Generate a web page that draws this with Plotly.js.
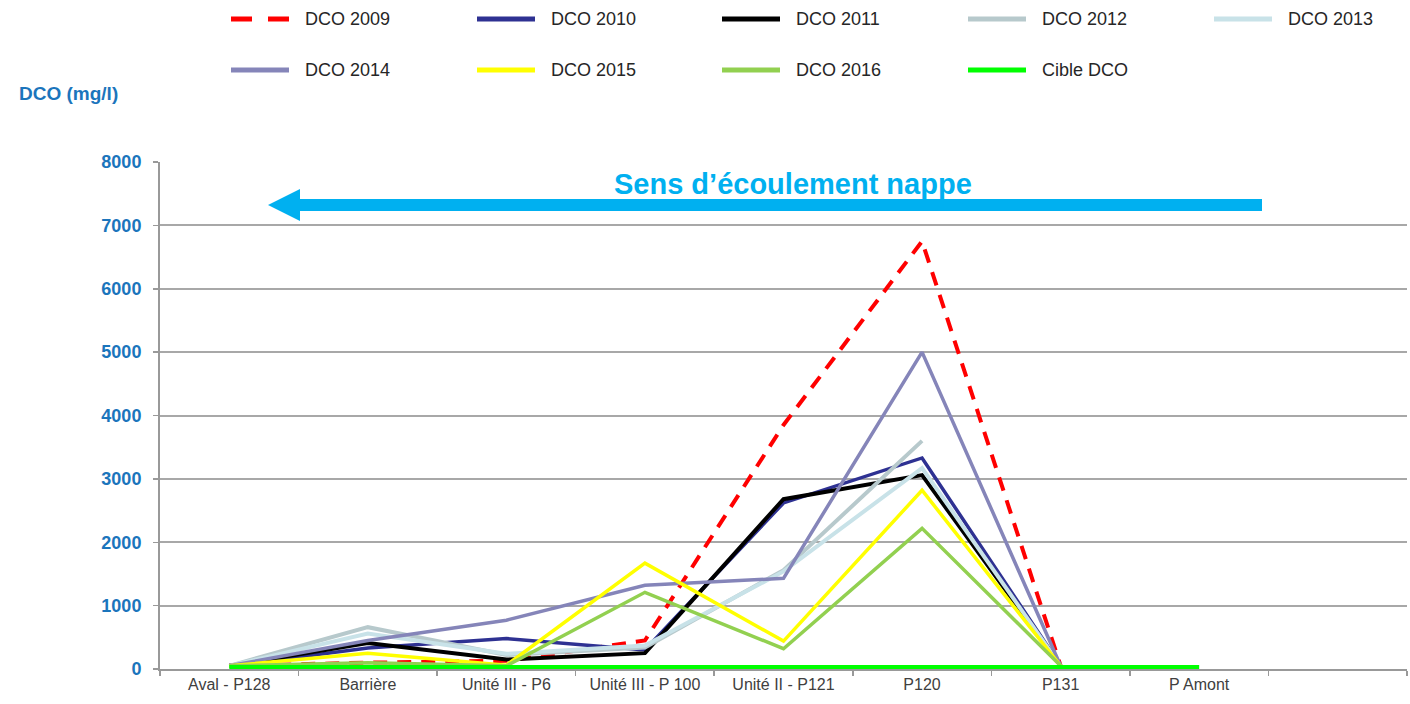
<!DOCTYPE html>
<html>
<head>
<meta charset="utf-8">
<script src="https://cdn.plot.ly/plotly-3.0.1.min.js"></script>
<style>html,body{margin:0;padding:0;background:#fff;}#chart{width:1410px;height:704px;}</style>
</head>
<body>
<div id="chart"></div>
<script>
// ---- data ----
var categories = ["Aval - P128", "Barrière", "Unité III - P6", "Unité III - P 100", "Unité II - P121", "P120", "P131", "P Amont", " "];
var seriesNames = ["DCO 2009", "DCO 2010", "DCO 2011", "DCO 2012", "DCO 2013", "DCO 2014", "DCO 2015", "DCO 2016", "Cible DCO"];
var dco2009 = [50, 100, 130, 450, 3850, 6750, 50];
var dco2010 = [50, 330, 480, 300, 2620, 3330, 50];
var dco2011 = [50, 410, 150, 250, 2680, 3060, 50];
var dco2012 = [50, 660, 220, 340, 1560, 3600, null];
var dco2013 = [50, 560, 240, 370, 1540, 3170, 50];
var dco2014 = [50, 450, 770, 1320, 1430, 5000, 50];
var dco2015 = [50, 250, 60, 1670, 440, 2820, 50];
var dco2016 = [50, 100, 50, 1210, 320, 2220, 50];
var cibleDCO = [25, 25, 25, 25, 25, 25, 25, 25];
var yTitle = "DCO (mg/l)";
var flowLabel = "Sens d’écoulement nappe";

// ---- styles ----
var colors = ["#ff0000", "#2e3192", "#000000", "#b7c9cc", "#c8e2e8", "#8585b9", "#ffff00", "#92d050", "#00ff00"];
var widths = [4, 3.5, 4, 4, 4, 3.5, 3.5, 3.5, 5];
var seriesData = [dco2009, dco2010, dco2011, dco2012, dco2013, dco2014, dco2015, dco2016, cibleDCO];

var traces = seriesData.map(function (vals, i) {
  return {
    type: "scatter", mode: "lines",
    name: seriesNames[i],
    x: categories.slice(0, vals.length),
    y: vals,
    connectgaps: false,
    line: { color: colors[i], width: widths[i], dash: i === 0 ? "14px,10px" : "solid" },
    showlegend: false,
    hoverinfo: "x+y+name"
  };
});

// pixel -> paper helpers (plot area: x 160..1407, y 162..669)
var L = 160, R = 1407, T = 162, B = 669;
function px(x) { return (x - L) / (R - L); }
function py(y) { return (B - y) / (B - T); }

var FONT = "Liberation Sans, Arial, sans-serif";
var shapes = [];
var annotations = [];

// custom legend
var colStart = [231, 477, 722, 968, 1214];
var rowY = [19, 70];
seriesNames.forEach(function (nm, i) {
  var col = i % 5, row = Math.floor(i / 5);
  var x0 = colStart[col], y0 = rowY[row];
  shapes.push({
    type: "line", xref: "paper", yref: "paper",
    x0: px(x0), x1: px(x0 + 58), y0: py(y0), y1: py(y0),
    line: { color: colors[i], width: 5, dash: i === 0 ? "21px,16px" : "solid" }
  });
  annotations.push({
    xref: "paper", yref: "paper", x: px(x0 + 72), y: py(y0),
    xanchor: "left", yanchor: "middle", showarrow: false,
    text: nm, font: { family: FONT, size: 18, color: "#262626" }
  });
});

// y-axis title
annotations.push({
  xref: "paper", yref: "paper", x: px(17), y: py(94),
  xanchor: "left", yanchor: "middle", showarrow: false,
  text: "<b>" + yTitle + "</b>", font: { family: FONT, size: 19, color: "#1b75bc" }
});

// flow arrow
shapes.push({
  type: "rect", xref: "paper", yref: "paper",
  x0: px(298), x1: px(1262), y0: py(199), y1: py(211),
  fillcolor: "#00b0f0", line: { width: 0 }
});
shapes.push({
  type: "path", xref: "paper", yref: "paper",
  path: "M " + px(268) + " " + py(205) + " L " + px(300) + " " + py(189) + " L " + px(300) + " " + py(221) + " Z",
  fillcolor: "#00b0f0", line: { width: 0 }
});
annotations.push({
  xref: "paper", yref: "paper", x: px(793), y: py(184),
  xanchor: "center", yanchor: "middle", showarrow: false,
  text: "<b>" + flowLabel + "</b>", font: { family: FONT, size: 29, color: "#00b0f0" }
});

var layout = {
  width: 1410, height: 704,
  margin: { l: L, r: 1410 - R, t: T, b: 704 - B },
  paper_bgcolor: "#ffffff", plot_bgcolor: "#ffffff",
  showlegend: false,
  font: { family: FONT },
  xaxis: {
    type: "category",
    categoryorder: "array", categoryarray: categories,
    range: [-0.5, categories.length - 0.5],
    tickson: "boundaries",
    ticks: "outside", ticklen: 5, tickwidth: 1.5, tickcolor: "#999999",
    showline: true, linecolor: "#999999", linewidth: 2,
    showgrid: false, zeroline: false,
    tickfont: { family: FONT, size: 16, color: "#404040" },
    fixedrange: true
  },
  yaxis: {
    range: [0, 8000], dtick: 1000, tick0: 0,
    ticks: "outside", ticklen: 5, tickwidth: 1.5, tickcolor: "#999999",
    ticklabelstandoff: 8,
    showline: true, linecolor: "#999999", linewidth: 2,
    showgrid: true, gridcolor: "#a8a8a8", gridwidth: 2,
    zeroline: false,
    tickfont: { family: FONT, size: 18, color: "#1b75bc", weight: "bold" },
    fixedrange: true
  },
  shapes: shapes,
  annotations: annotations
};

Plotly.newPlot("chart", traces, layout, { displayModeBar: false, staticPlot: true });
</script>
</body>
</html>
